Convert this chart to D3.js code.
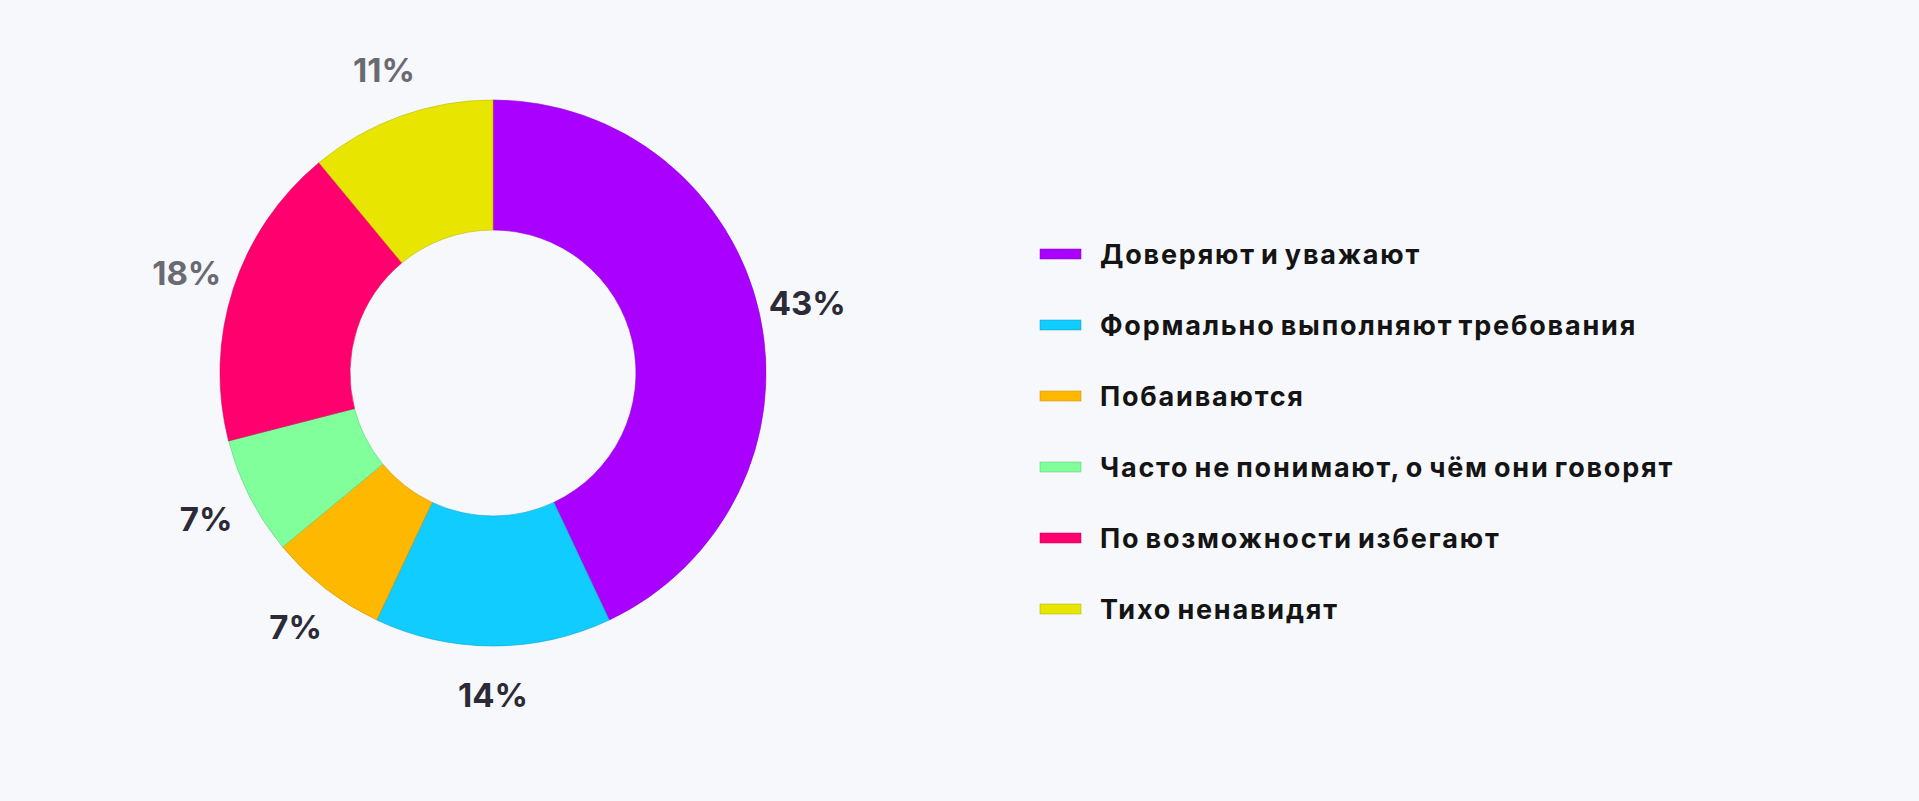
<!DOCTYPE html>
<html>
<head>
<meta charset="utf-8">
<script src="https://cdn.jsdelivr.net/npm/d3@7"></script>
<style>
  html, body { margin: 0; padding: 0; background: #f7f8fc; }
  #chart { width: 1919px; height: 801px; }
  text { font-family: Inter, "Noto Sans", sans-serif; }
</style>
</head>
<body>
<div id="chart"></div>
<script>
const categories = [
    'Доверяют и уважают',
    'Формально выполняют требования',
    'Побаиваются',
    'Часто не понимают, о чём они говорят',
    'По возможности избегают',
    'Тихо ненавидят'
];
const values = [43, 14, 7, 7, 18, 11];
const colors = ['#aa00ff', '#11ccff', '#ffb800', '#80ff9b', '#ff006e', '#e8e600'];
const labelColors = ['#2c2a36', '#2c2a36', '#2c2a36', '#2c2a36', '#6a6a72', '#6a6a72'];

const width = 1919, height = 801;
const cx = 493, cy = 373;
const outerR = 273, innerR = 143, labelR = 322;

const svg = d3.select('#chart').append('svg')
    .attr('width', width)
    .attr('height', height);

const data = categories.map((c, i) => ({ name: c, value: values[i], color: colors[i], labelColor: labelColors[i] }));

const pie = d3.pie().value(d => d.value).sort(null);
const arc = d3.arc().innerRadius(innerR).outerRadius(outerR);
const labelArc = d3.arc().innerRadius(labelR).outerRadius(labelR);

const g = svg.append('g').attr('transform', `translate(${cx},${cy})`);
const arcs = pie(data);

g.selectAll('path')
    .data(arcs)
    .enter().append('path')
    .attr('d', arc)
    .attr('fill', d => d.data.color)
    .attr('stroke', d => d3.color(d.data.color).darker(0.6))
    .attr('stroke-width', 0.6);

// percentage labels outside the ring
g.selectAll('text.pct')
    .data(arcs)
    .enter().append('text')
    .attr('class', 'pct')
    .attr('transform', d => `translate(${labelArc.centroid(d)})`)
    .attr('text-anchor', 'middle')
    .attr('dominant-baseline', 'central')
    .attr('font-size', 33)
    .attr('font-weight', 700)
    .attr('fill', d => d.data.labelColor)
    .text(d => d.data.value + '%');

// legend
const legendY = d3.scalePoint()
    .domain(categories)
    .range([254, 609]);

const legend = svg.append('g').attr('transform', 'translate(1040,0)');
const item = legend.selectAll('g')
    .data(data)
    .enter().append('g')
    .attr('transform', d => `translate(0,${legendY(d.name)})`);

item.append('rect')
    .attr('x', 0)
    .attr('y', -5)
    .attr('width', 41)
    .attr('height', 10)
    .attr('fill', d => d.color)
    .attr('stroke', d => d3.color(d.color).darker(0.8))
    .attr('stroke-width', 0.5);

item.append('text')
    .attr('x', 60)
    .attr('y', 0)
    .attr('dominant-baseline', 'central')
    .attr('font-size', 27)
    .attr('font-weight', 700)
    .attr('letter-spacing', 1.8)
    .attr('word-spacing', -3)
    .attr('fill', '#141414')
    .text(d => d.name);
</script>
</body>
</html>
